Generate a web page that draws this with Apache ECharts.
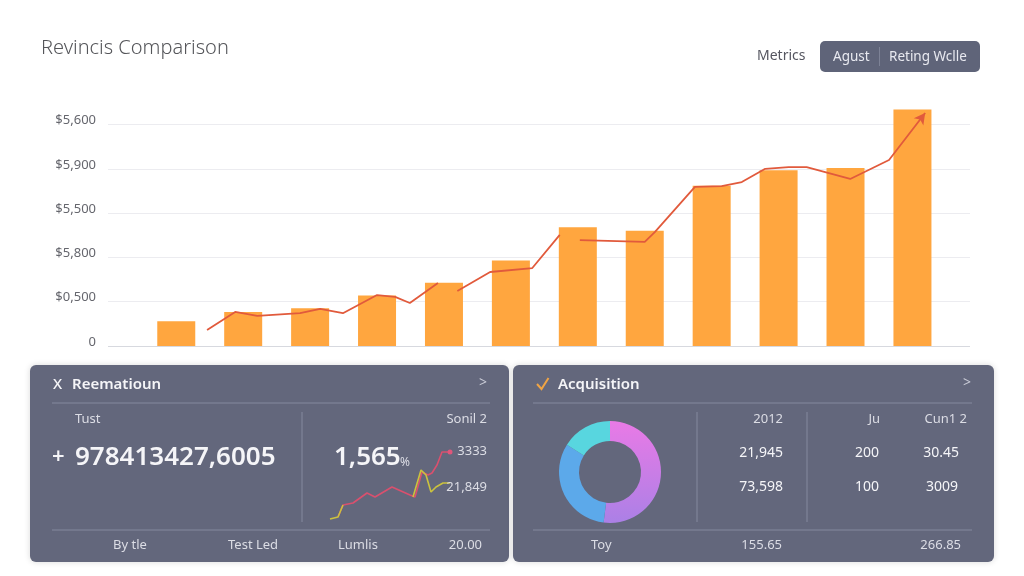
<!DOCTYPE html>
<html>
<head>
<meta charset="utf-8">
<script src="https://cdn.jsdelivr.net/npm/echarts@6/dist/echarts.min.js"></script>
<style>
html,body{margin:0;padding:0;background:#ffffff;}
#chart{width:1024px;height:576px;}
</style>
</head>
<body>
<div id="chart"></div>
<script>
// ---- data ----
const chartTitle = 'Revincis Comparison';
const yTickLabels = ['0', '$0,500', '$5,800', '$5,500', '$5,900', '$5,600', ''];
const barIndex = [0, 1, 2, 3, 4, 5, 6, 7, 8, 9, 10, 11];
const barValues = [0.56, 0.77, 0.85, 1.14, 1.43, 1.93, 2.68, 2.60, 3.62, 3.97, 4.02, 5.34];
const trendX = [0.46, 0.88, 1.21, 1.85, 2.15, 2.49, 3.00, 3.27, 3.49, 3.91, 4.05, 4.20, 4.69, 5.32, 5.73, 5.88, 6.03, 7.00, 7.15, 7.75, 8.15, 8.45, 8.80, 9.15, 9.42, 10.07, 10.65, 11.19];
const trendY = [0.36, 0.77, 0.68, 0.74, 0.84, 0.74, 1.15, 1.11, 0.97, 1.42, null, 1.24, 1.67, 1.76, 2.51, null, 2.39, 2.35, 2.57, 3.59, 3.61, 3.70, 4.00, 4.04, 4.04, 3.77, 4.20, 5.26];

const miniRedX = [0.8, 1.3, 2.3, 3.7, 4.5, 6.2, 8.0, 8.5, 9.2, 9.8, 10.2, 10.7, 11.2, 12.0];
const miniRedY = [0.3, 1.5, 1.7, 2.7, 2.3, 3.3, 2.5, 2.3, 4.8, 4.5, 4.7, 5.5, 6.8, 6.8];
const miniYellowX = [0, 0.8, 1.3, 4.8, 8.3, 9.1, 9.6, 10.1, 10.6, 11.3, 12.0];
const miniYellowY = [0.1, 0.3, 1.5, null, 2.3, 5.0, 4.5, 2.8, 3.3, 3.7, 3.7];

const donutNames = ['A', 'B', 'C'];
const donutValues = [52, 32, 16];

const headerMetrics = 'Metrics';
const headerButtons = ['Agust', 'Reting Wclle'];

const leftTitle = 'Reematioun';
const leftSubLabels = ['Tust', 'Sonil 2'];
const leftBigNumber = '978413427,6005';
const leftPercent = '1,565';
const miniLabels = ['3333', '21,849'];
const leftFooter = ['By tle', 'Test Led', 'Lumlis', '20.00'];

const rightTitle = 'Acquisition';
const rightHeaders = ['2012', 'Ju', 'Cun1 2'];
const rightRow1 = ['21,945', '200', '30.45'];
const rightRow2 = ['73,598', '100', '3009'];
const rightFooter = ['Toy', '155.65', '266.85'];

// ---- render ----
const FONT = '"Noto Sans", "DejaVu Sans", sans-serif';
const chart = echarts.init(document.getElementById('chart'), null, {renderer: 'canvas'});

function txt(x, y, text, size, fill, align, weight) {
  return {
    type: 'text', x: x, y: y, z: 10,
    style: {
      text: text, fill: fill,
      font: (weight || 'normal') + ' ' + size + 'px ' + FONT,
      textAlign: align || 'left', textVerticalAlign: 'middle'
    }
  };
}
function hline(x1, x2, y, color) {
  return {type: 'line', z: 5, shape: {x1: x1, y1: y, x2: x2, y2: y}, style: {stroke: color, lineWidth: 1}};
}
function vline(x, y1, y2, color) {
  return {type: 'line', z: 5, shape: {x1: x, y1: y1, x2: x, y2: y2}, style: {stroke: color, lineWidth: 1}};
}

const panelFill = '#63677c';
const divider = '#858a9e';
const light = '#dcdde5';
const white = '#f5f5f8';

const splitColors = ['#d7d9df', '#ececf0', '#ececf0', '#ececf0', '#ececf0', '#ececf0', 'rgba(0,0,0,0)'];

const trendData = trendX.map((x, i) => [x, trendY[i] == null ? '-' : trendY[i]]);
const lastIdx = trendData.length - 1;

const graphics = [
  txt(41, 48, chartTitle, 20, '#55565a', 'left', '300'),
  txt(757, 56, headerMetrics, 14, '#555660', 'left'),
  {type: 'rect', z: 1, shape: {x: 820, y: 41, width: 160, height: 31, r: 5}, style: {fill: '#5f6479'}},
  txt(833, 57, headerButtons[0], 13.5, '#e8e9f0', 'left'),
  vline(879.5, 47, 66, '#7d8296'),
  txt(889, 57, headerButtons[1], 13.5, '#e8e9f0', 'left'),

  // left panel
  {type: 'rect', z: 0, shape: {x: 30, y: 365, width: 479, height: 197, r: 6}, style: {fill: panelFill, shadowBlur: 6, shadowColor: 'rgba(0,0,0,0.15)'}},
  txt(53, 385, 'X', 15, white, 'left', '500'),
  txt(72, 385, leftTitle, 15, white, 'left', '600'),
  txt(487, 383, '>', 14, '#c9cbd6', 'right'),
  hline(52, 490, 403, divider),
  txt(75, 419, leftSubLabels[0], 13, light, 'left'),
  txt(487, 419, leftSubLabels[1], 13, light, 'right'),
  vline(302, 412, 522, divider),
  txt(52, 457, '+', 22, white, 'left', '600'),
  txt(75, 458, leftBigNumber, 26, white, 'left', '600'),
  txt(334, 458, leftPercent, 26, white, 'left', '600'),
  txt(400, 463, '%', 12, light, 'left'),
  txt(487, 451, miniLabels[0], 13, light, 'right'),
  txt(487, 487, miniLabels[1], 13, light, 'right'),
  hline(52, 490, 530, divider),
  txt(113, 545, leftFooter[0], 13, light, 'left'),
  txt(228, 545, leftFooter[1], 13, light, 'left'),
  txt(338, 545, leftFooter[2], 13, light, 'left'),
  txt(482, 545, leftFooter[3], 13, light, 'right'),

  // right panel
  {type: 'rect', z: 0, shape: {x: 513, y: 365, width: 481, height: 197, r: 6}, style: {fill: panelFill, shadowBlur: 6, shadowColor: 'rgba(0,0,0,0.15)'}},
  {type: 'polyline', z: 10, shape: {points: [[537, 384], [541.5, 389], [548.5, 378]]}, style: {stroke: '#f0a444', lineWidth: 2, fill: null}},
  txt(558, 385, rightTitle, 15, white, 'left', '600'),
  txt(971, 383, '>', 14, '#c9cbd6', 'right'),
  hline(533, 972, 403, divider),
  vline(697, 412, 522, divider),
  vline(807, 412, 522, divider),
  txt(783, 419, rightHeaders[0], 13, light, 'right'),
  txt(880, 419, rightHeaders[1], 13, light, 'right'),
  txt(967, 419, rightHeaders[2], 13, light, 'right'),
  txt(783, 453, rightRow1[0], 14, white, 'right'),
  txt(879, 453, rightRow1[1], 14, white, 'right'),
  txt(959, 453, rightRow1[2], 14, white, 'right'),
  txt(783, 487, rightRow2[0], 14, white, 'right'),
  txt(879, 487, rightRow2[1], 14, white, 'right'),
  txt(958, 487, rightRow2[2], 14, white, 'right'),
  hline(533, 972, 530, divider),
  txt(591, 545, rightFooter[0], 13, light, 'left'),
  txt(782, 545, rightFooter[1], 13, light, 'right'),
  txt(961, 545, rightFooter[2], 13, light, 'right')
];

const option = {
  animation: false,
  backgroundColor: '#ffffff',
  textStyle: {fontFamily: FONT},
  grid: [
    {left: 108, right: 54, top: 80.2, bottom: 230},
    {left: 330, right: 574, top: 450, bottom: 56}
  ],
  xAxis: [
    {type: 'value', gridIndex: 0, min: -1.02, max: 11.86, show: false, splitLine: {show: false}},
    {type: 'value', gridIndex: 1, min: 0, max: 12, show: false, splitLine: {show: false}}
  ],
  yAxis: [
    {
      type: 'value', gridIndex: 0, min: 0, max: 6, interval: 1,
      axisLine: {show: false}, axisTick: {show: false},
      axisLabel: {
        margin: 12, color: '#65666d', fontSize: 13, fontFamily: FONT,
        verticalAlign: 'bottom', lineHeight: 8,
        formatter: v => yTickLabels[Math.round(v)]
      },
      splitLine: {show: true, lineStyle: {color: splitColors, width: 1}}
    },
    {type: 'value', gridIndex: 1, min: 0, max: 7, show: false, splitLine: {show: false}}
  ],
  series: [
    {
      type: 'bar', xAxisIndex: 0, yAxisIndex: 0, barWidth: 38,
      itemStyle: {color: '#ffa63f'},
      data: barIndex.map((x, i) => [x, barValues[i]]),
      silent: true, z: 2
    },
    {
      type: 'line', xAxisIndex: 0, yAxisIndex: 0, z: 3,
      data: trendData,
      connectNulls: false,
      showSymbol: true,
      symbol: (v, p) => p.dataIndex === lastIdx ? 'arrow' : 'none',
      symbolSize: [9, 11],
      symbolRotate: -37,
      itemStyle: {color: '#e15a3c'},
      lineStyle: {color: '#e15a3c', width: 1.8},
      silent: true
    },
    {
      type: 'line', xAxisIndex: 1, yAxisIndex: 1, z: 4,
      data: miniRedX.map((x, i) => [x, miniRedY[i]]),
      showSymbol: true,
      symbol: (v, p) => p.dataIndex === miniRedX.length - 1 ? 'circle' : 'none',
      symbolSize: 5,
      itemStyle: {color: '#e0567a'},
      lineStyle: {color: '#d9506e', width: 1.6},
      silent: true
    },
    {
      type: 'line', xAxisIndex: 1, yAxisIndex: 1, z: 5,
      data: miniYellowX.map((x, i) => [x, miniYellowY[i] == null ? '-' : miniYellowY[i]]),
      connectNulls: false,
      showSymbol: false, symbol: 'none',
      lineStyle: {color: '#cbc23e', width: 1.6},
      silent: true
    },
    {
      type: 'pie', center: [610, 472], radius: [31, 51],
      startAngle: 90, clockwise: true, silent: true, z: 4,
      label: {show: false}, labelLine: {show: false},
      data: donutValues.map((v, i) => ({
        name: donutNames[i], value: v,
        itemStyle: {
          color: i === 0
            ? new echarts.graphic.LinearGradient(0, 0, 0, 1, [{offset: 0, color: '#e97ae6'}, {offset: 1, color: '#ab80e6'}])
            : (i === 1 ? '#5ca9ea' : '#58d6df')
        }
      }))
    }
  ],
  graphic: graphics
};
chart.setOption(option);
</script>
</body>
</html>
